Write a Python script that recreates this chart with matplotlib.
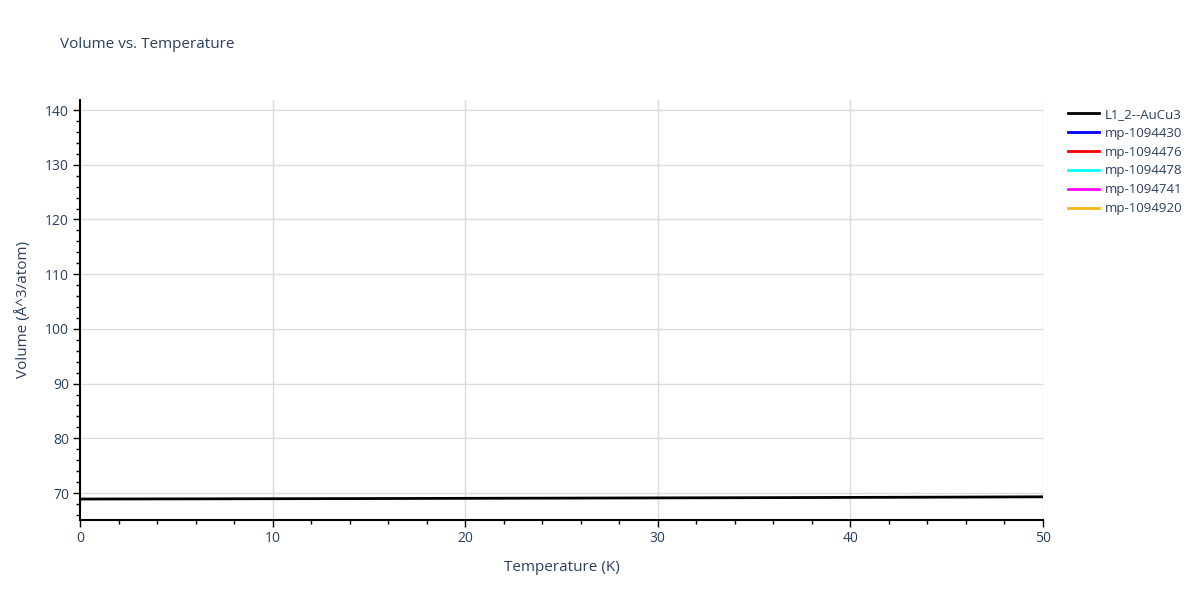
import matplotlib
matplotlib.use("Agg")
import matplotlib.pyplot as plt
from matplotlib.ticker import MultipleLocator

# data
temperature = [0, 5, 10, 15, 20, 25, 30, 35, 40, 45, 50]
volume_l12 = [68.90, 68.93, 68.96, 68.99, 69.03, 69.07, 69.11, 69.15, 69.20, 69.25, 69.31]
other_names = ["mp-1094430", "mp-1094476", "mp-1094478", "mp-1094741", "mp-1094920"]
other_colors = ["#0000ff", "#ff0000", "#00ffff", "#ff00ff", "#f0b818"]

txt = "#2a3f5f"
plt.rcParams["font.family"] = ["Open Sans", "DejaVu Sans"]

fig = plt.figure(figsize=(12, 6), dpi=100)
ax = fig.add_axes([80/1200, 80/600, 963/1200, 420/600])

ax.plot(temperature, volume_l12, color="black", lw=2, label="L1_2--AuCu3", zorder=3)
for name, c in zip(other_names, other_colors):
    ax.plot([], [], color=c, lw=2, label=name)

ax.set_xlim(0, 50)
ax.set_ylim(65.07, 141.83)
ax.xaxis.set_major_locator(MultipleLocator(10))
ax.xaxis.set_minor_locator(MultipleLocator(2))
ax.yaxis.set_major_locator(MultipleLocator(10))
ax.yaxis.set_minor_locator(MultipleLocator(2))
ax.grid(True, which="major", color="#dcdcdc", lw=1)
ax.set_axisbelow(True)

for s in ["top", "right"]:
    ax.spines[s].set_visible(False)
for s in ["left", "bottom"]:
    ax.spines[s].set_color("black")
    ax.spines[s].set_linewidth(1.5)

ax.tick_params(which="major", direction="out", length=5, width=1, color="black",
               labelsize=10, labelcolor=txt, pad=3)
ax.tick_params(which="minor", direction="out", length=3, width=1, color="black")

ax.set_xlabel("Temperature (K)", fontsize=11, color=txt, labelpad=10)
ax.set_ylabel("Volume (Å^3/atom)", fontsize=11, color=txt, labelpad=10)
fig.text(60/1200, 1 - 45/600, "Volume vs. Temperature", fontsize=11, color=txt, va="center")

leg = ax.legend(loc="upper left", bbox_to_anchor=(1.014, 1.01), frameon=False,
                fontsize=9.5, handlelength=2.3, labelspacing=0.45, handletextpad=0.45)
for t in leg.get_texts():
    t.set_color(txt)

fig.savefig("out.png", dpi=100)
